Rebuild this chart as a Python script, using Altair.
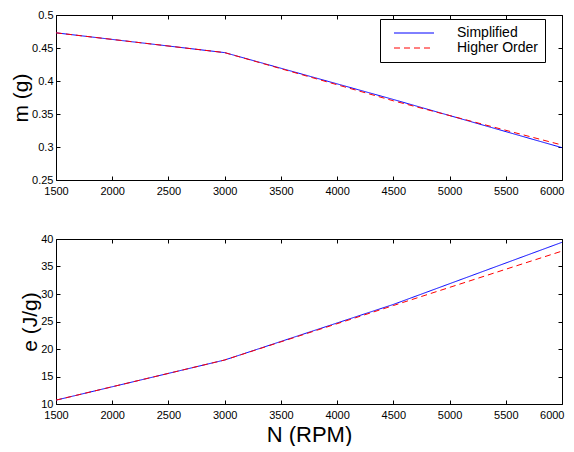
import altair as alt
import pandas as pd

rpm = [1500, 3000, 4500, 6000]
m_simplified = [0.473, 0.443, 0.372, 0.299]
m_higher = [0.473, 0.443, 0.370, 0.303]
e_simplified = [10.7, 18.0, 28.1, 39.4]
e_higher = [10.7, 18.0, 27.9, 37.8]
series_names = ["Simplified", "Higher Order"]
x_ticks = [1500, 2000, 2500, 3000, 3500, 4000, 4500, 5000, 5500, 6000]
m_ticks = [0.25, 0.3, 0.35, 0.4, 0.45, 0.5]
e_ticks = [10, 15, 20, 25, 30, 35, 40]

rows = []
for i, n in enumerate(rpm):
    rows.append({"N": n, "series": "Simplified", "m": m_simplified[i], "e": e_simplified[i]})
    rows.append({"N": n, "series": "Higher Order", "m": m_higher[i], "e": e_higher[i]})
df = pd.DataFrame(rows)

W, H = 506, 165
FONT = "Liberation Sans"
LAST = x_ticks[-1]


def panel(field, ytitle, ydomain, yticks, yfmt, xtitle, show_legend):
    xs = alt.Scale(domain=[1500, 6000], nice=False, zero=False)
    ys = alt.Scale(domain=ydomain, nice=False, zero=False)
    base = alt.Chart(df)
    if show_legend:
        leg = alt.Legend(title=None, orient="none", legendX=324, legendY=4,
                         symbolType="M0,0H10", symbolSize=64, symbolStrokeWidth=1,
                         labelFontSize=14, labelFont=FONT, labelColor="black",
                         labelOffset=56, padding=7, strokeColor="black",
                         fillColor="white", rowPadding=1, labelLimit=300)
    else:
        leg = None
    xaxis_kw = dict(values=x_ticks, format="d", ticks=False, domain=False, grid=False,
                    labelPadding=5, labelFlush=False, titlePadding=4, titleFontSize=22,
                    labelAlign=alt.condition(f"datum.value >= {LAST}", alt.value("right"), alt.value("center")),
                    labelOffset=alt.condition(f"datum.value >= {LAST}", alt.value(2), alt.value(0)),
                    titleFontWeight="normal", titleFont=FONT, titleColor="black",
                    labelFont=FONT, labelFontSize=11, labelColor="black")
    if xtitle:
        xaxis = alt.Axis(title=xtitle, **xaxis_kw)
    else:
        xaxis = alt.Axis(title=None, **xaxis_kw)
    main = base.mark_line(strokeWidth=1).encode(
        x=alt.X("N:Q", scale=xs, axis=xaxis),
        y=alt.Y(f"{field}:Q", scale=ys,
                axis=alt.Axis(values=yticks, format=yfmt, ticks=False, domain=False,
                              grid=False, labelPadding=3, labelFlush=False, title=ytitle,
                              titleFontSize=21, titlePadding=0,
                              titleFontWeight="normal", titleFont=FONT, titleColor="black",
                              labelFont=FONT, labelFontSize=11, labelColor="black")),
        color=alt.Color("series:N", sort=series_names,
                        scale=alt.Scale(domain=series_names, range=["#0000ff", "#ff0000"]),
                        legend=leg),
        strokeDash=alt.StrokeDash("series:N", sort=series_names,
                                  scale=alt.Scale(domain=series_names, range=[[1, 0], [6, 4]]),
                                  legend=leg),
    )
    tick_kw = dict(labels=False, domain=False, grid=False, tickSize=4,
                   tickColor="black", title=None)
    inner1 = base.mark_line(opacity=0).encode(
        x=alt.X("N:Q", scale=xs, axis=alt.Axis(orient="top", offset=-H, values=x_ticks, **tick_kw)),
        y=alt.Y(f"{field}:Q", scale=ys, axis=alt.Axis(orient="right", offset=-W, values=yticks, **tick_kw)),
    )
    inner2 = base.mark_line(opacity=0).encode(
        x=alt.X("N:Q", scale=xs, axis=alt.Axis(orient="bottom", offset=-H, values=x_ticks, **tick_kw)),
        y=alt.Y(f"{field}:Q", scale=ys, axis=alt.Axis(orient="left", offset=-W, values=yticks, **tick_kw)),
    )
    return alt.layer(main, inner1, inner2).resolve_axis(
        x="independent", y="independent"
    ).properties(width=W, height=H)


top = panel("m", "m (g)", [0.25, 0.5], m_ticks, ".2~f", None, True)
bottom = panel("e", "e (J/g)", [10, 40], e_ticks, "d", "N (RPM)", False)

chart = alt.vconcat(top, bottom, spacing=35).resolve_scale(
    color="independent", strokeDash="independent"
).properties(
    padding={"left": 2, "top": 0, "right": 0, "bottom": 0}
).configure_view(
    stroke="black", strokeWidth=1
)

chart.save("out.html", embed_options={"renderer": "svg", "actions": False})
